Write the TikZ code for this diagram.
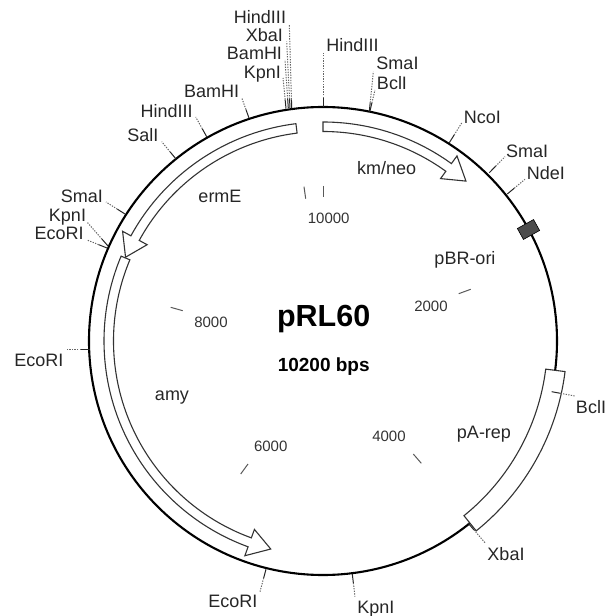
\documentclass[tikz,border=0pt]{standalone}
\usepackage{fontspec}
\setmainfont{Liberation Sans}
\usetikzlibrary{arrows.meta, positioning, calc}

% gene arrow on the map circle: start angle, back of head, tip
\newcommand{\genearrow}[3]{%
  \draw[gene] (#1:219) arc[start angle=#1, end angle=#2, radius=219] -- (#2:228.5) -- (#3:214.5)
    -- (#2:200.5) -- (#2:209.5) arc[start angle=#2, end angle=#1, radius=209.5] -- cycle;
}

\begin{document}
\begin{tikzpicture}[
    x=1pt, y=1pt,
    font=\fontsize{18}{20}\selectfont,
    plasmid/.style={line width=2.1pt},
    gene/.style={draw=black!80, fill=white, line width=1.1pt, line join=miter},
    sitelabel/.style={inner sep=0pt, anchor=base, text=black!85},
    genelabel/.style={inner sep=0pt, anchor=base, text=black!85},
    scalelabel/.style={inner sep=0pt, anchor=base, font=\fontsize{15}{17}\selectfont, text=black!80},
    sitetick/.style={line width=1pt, black!85},
    sitelead/.style={line width=1pt, black!60, dash pattern=on 1.3pt off 1.3pt},
    scaletick/.style={line width=1pt, black!65}
]
\useasboundingbox (-323,-275) rectangle (290,341);

% map circle
\node[circle, draw, plasmid, minimum size=468pt, inner sep=0pt] (plasmid) at (0,0) {};

% title
\node[inner sep=0pt, anchor=base, font=\bfseries\fontsize{30.5}{33}\selectfont] (title) at (0.7,14.3) {pRL60};
\node[inner sep=0pt, anchor=base, font=\bfseries\fontsize{19}{22}\selectfont] (size) at (0.7,-30.7) {10200 bps};

% genes
\genearrow{90}{54.1}{48.2}
\genearrow{97.1}{151.3}{157}
\genearrow{157.2}{250}{255.9}

% pA-rep box and origin block
\draw[gene] (-7.2:224.5) arc[start angle=-7.2, end angle=-51.1, radius=224.5] -- (-51.1:244)
    arc[start angle=-51.1, end angle=-7.2, radius=244] -- cycle;
\node[draw=black, fill=black!70, line width=0.6pt, minimum width=18.5pt, minimum height=12.5pt,
    inner sep=0pt, rotate=29] (oriblock) at (205.5,111.5) {};

\node[genelabel] (kmneo) at (63.6,166) {km/neo};
\node[genelabel] (ermE) at (-103,138.7) {ermE};
\node[genelabel] (amy) at (-151,-59) {amy};
\node[genelabel] (pBRori) at (142,76) {pBR-ori};
\node[genelabel] (pArep) at (161,-97.3) {pA-rep};

% scale
\foreach \ax/\ay/\bx/\by in {
    0.3/155/0.3/143.7,
    -19/154.3/-17.3/142.3,
    147.7/51.7/135.7/47.3,
    90.3/-113/98.3/-122.3,
    -75/-123/-82.3/-133,
    -152.3/33.7/-140.3/30.3} {
  \draw[scaletick] (\ax,\ay) -- (\bx,\by);
}
\foreach \lx/\ly/\ltext in {
    5.7/117/10000,
    108/29.3/2000,
    66/-100.7/4000,
    -52.3/-110/6000,
    -112/13.3/8000} {
  \node[scalelabel] (mark\ltext) at (\lx,\ly) {\ltext};
}

% sites
\foreach \sname/\ax/\ay/\bx/\by/\lx/\ly/\ltext in {
    sa/-31.3/232.7/-33.7/317/-63/317.7/HindIII,
    sb/-33/233/-36.3/299.3/-58.7/299.3/XbaI,
    sc/-34.7/233/-38/281/-68.5/281/BamHI,
    sd/-37/232.5/-40/263/-60.7/262.7/KpnI,
    se/0.3/234/0.3/287.7/29.5/289.3/HindIII,
    sf/46.3/229.3/50.3/269.3/74.5/271/SmaI,
    sg/46.8/229.3/52/251/69/251.7/BclI,
    sh/126.3/198.3/138.7/218/159.3/217/NcoI,
    si/166.3/168.3/182/184.3/204.2/183.3/SmaI,
    sj/184.3/147/202/161.7/222.8/161/NdeI,
    sk/228.7/-50.7/252/-55/268/-72.3/BclI,
    sl/145/-182/162/-201.7/183/-219/XbaI,
    sm/29.3/-233/32/-255.7/52.8/-272.3/KpnI,
    sn/-57/-228.3/-63/-250.7/-90.2/-266.7/EcoRI,
    so/-233/-8/-257.3/-8/-284.2/-25.7/EcoRI,
    sp/-216/93/-236/101/-263.8/101/EcoRI,
    sq/-215/95/-236/119/-255.5/119.3/KpnI,
    sr/-198/127/-217/139/-241.2/138.3/SmaI,
    ss/-147/182/-161.3/199.3/-180.2/199.3/SalI,
    st/-116.3/204.3/-127.3/224/-156.3/223.3/HindIII,
    su/-74/223/-81.3/243.3/-111.3/243.7/BamHI} {
  \coordinate (\sname a) at (\ax,\ay);
  \coordinate (\sname b) at (\bx,\by);
  \node[sitelabel] (\sname) at (\lx,\ly) {\ltext};
  \draw[sitetick] (\sname a) -- ($(\sname a)!9pt!(\sname b)$);
  \draw[sitelead] ($(\sname a)!9pt!(\sname b)$) -- (\sname b);
}
\end{tikzpicture}
\end{document}
